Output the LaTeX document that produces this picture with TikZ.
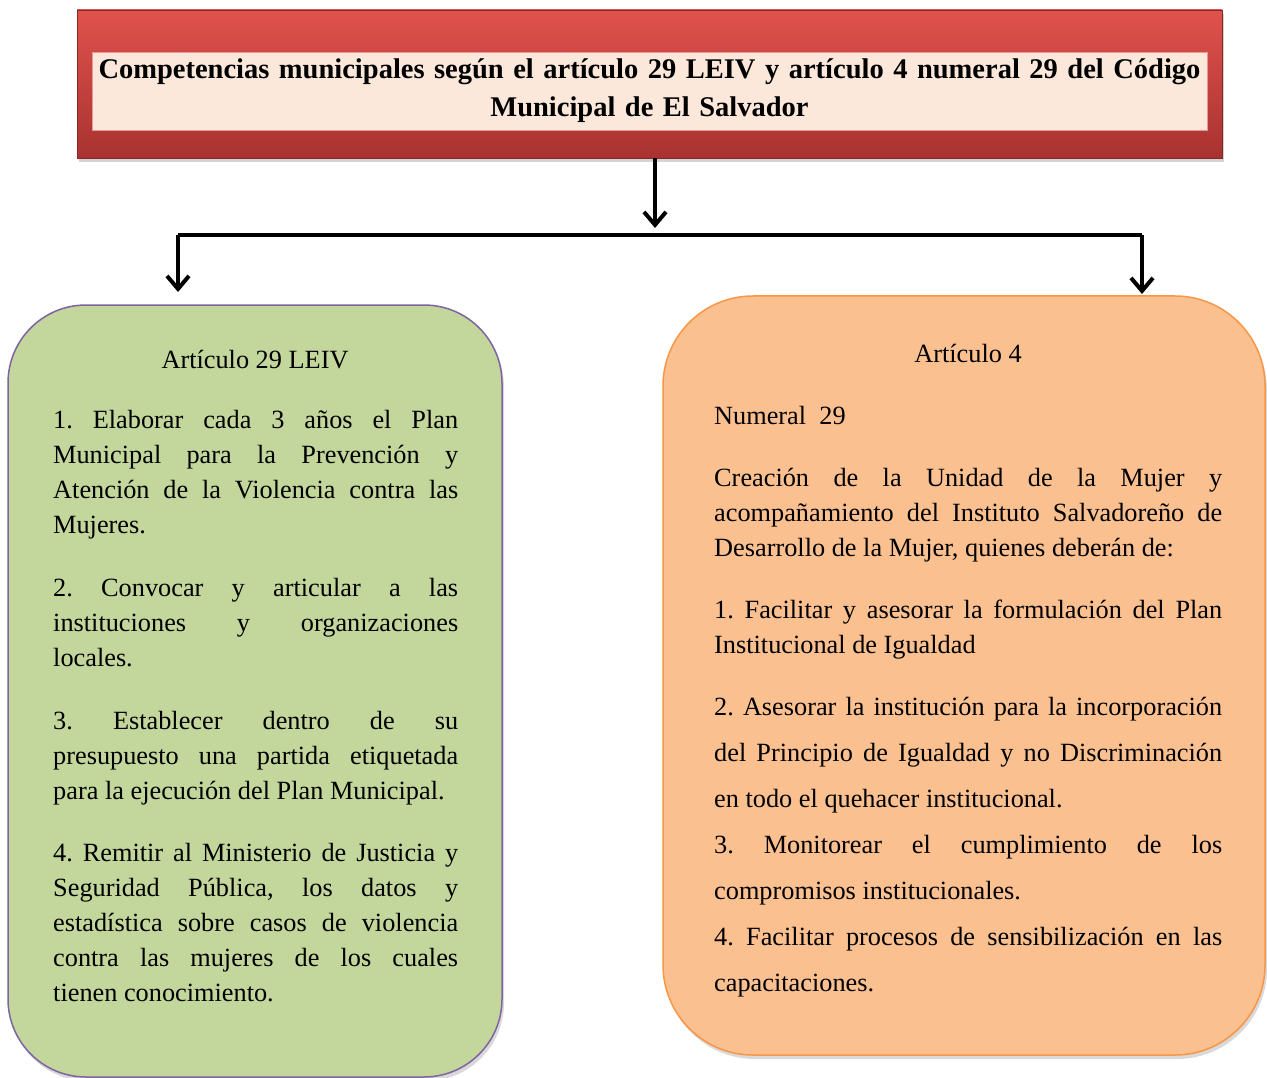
\documentclass[tikz,border=0pt]{standalone}
\usepackage{fontspec}
\setmainfont{Liberation Serif}
\usetikzlibrary{arrows.meta,shadows,calc}
\definecolor{redtop}{RGB}{224,82,77}
\definecolor{redbot}{RGB}{168,50,48}
\definecolor{cream}{RGB}{251,232,218}
\definecolor{greenfill}{RGB}{195,214,155}
\definecolor{greenline}{RGB}{128,100,162}
\definecolor{orangefill}{RGB}{250,192,144}
\definecolor{orangeline}{RGB}{247,150,70}
\frenchspacing
\begin{document}
\frenchspacing
\begin{tikzpicture}[x=1pt,y=-1pt,
  titleouter/.style={rectangle, minimum width=1145pt, minimum height=148pt, inner sep=0pt,
    top color=redtop, bottom color=redbot, draw=redbot!80!black, line width=0.6pt,
    drop shadow={shadow xshift=2pt, shadow yshift=-4pt, opacity=0.35}},
  titleinner/.style={rectangle, minimum width=1115pt, minimum height=78pt, inner sep=0pt,
    fill=cream, draw=redtop!60!white, line width=0.8pt, text width=1115pt, align=center,
    font=\bfseries\fontsize{28.5}{38}\selectfont\frenchspacing},
  greenbox/.style={rectangle, rounded corners=78pt, fill=greenfill, draw=greenline, line width=1.5pt,
    minimum width=494pt, minimum height=772pt, inner sep=0pt,
    drop shadow={shadow xshift=2pt, shadow yshift=-4pt, opacity=0.3}},
  orangebox/.style={rectangle, rounded corners=90pt, fill=orangefill, draw=orangeline, line width=1.5pt,
    minimum width=602pt, minimum height=759pt, inner sep=0pt,
    drop shadow={shadow xshift=2pt, shadow yshift=-4pt, opacity=0.3}},
  para/.style={anchor=base west, inner sep=0pt, align=justify,
    font=\fontsize{26.3}{35}\selectfont\frenchspacing},
  lpara/.style={para, text width=405pt},
  rpara/.style={para, text width=508pt},
  rparab/.style={rpara, font=\fontsize{26.3}{46}\selectfont\frenchspacing},
  head/.style={anchor=base, inner sep=0pt, font=\fontsize{26.3}{35}\selectfont},
  conn/.style={line width=4.5pt, black},
  arr/.style={line width=4.2pt, black, -{Straight Barb[length=13pt,width=22pt,line width=4pt]}}
]
\useasboundingbox (0,0) rectangle (1267,1078);

% title
\node[titleouter] (t) at (649.5,84) {};
\node[titleinner] (ti) at (649.5,91) {Competencias municipales según el artículo 29 LEIV y artículo 4 numeral 29 del Código\\Municipal de El Salvador};

% boxes
\node[greenbox] (L) at (255,691) {};
\node[orangebox] (R) at (964,675.5) {};

% connectors
\coordinate (jc) at (655,228);
\coordinate (jl) at (178,235);
\coordinate (jr) at (1142,235);
\coordinate (al) at (178,292);
\coordinate (ar) at (1142,294);
\draw[arr] (t.south -| jc) -- (jc);
\draw[conn] (jl) -- (jr);
\draw[arr] (jl) -- (al);
\draw[arr] (jr) -- (ar);

% left text
\node[head] (lh) at (255,368) {Artículo 29 LEIV};
\node[lpara] (l1) at (53,428) {1. Elaborar cada 3 años el Plan\linebreak Municipal para la Prevención y\linebreak Atención de la Violencia contra las\linebreak Mujeres.};
\node[lpara] (l2) at (53,596) {2. Convocar y articular a las\linebreak instituciones y organizaciones\linebreak locales.};
\node[lpara] (l3) at (53,729) {3. Establecer dentro de su\linebreak presupuesto una partida etiquetada\linebreak para la ejecución del Plan Municipal.};
\node[lpara] (l4) at (53,861) {4. Remitir al Ministerio de Justicia y\linebreak Seguridad Pública, los datos y\linebreak estadística sobre casos de violencia\linebreak contra las mujeres de los cuales\linebreak tienen conocimiento.};

% right text
\node[head] (rh) at (968,362) {Artículo 4};
\node[rpara] (r0) at (714,424) {Numeral\ \ 29};
\node[rpara] (r1) at (714,486) {Creación de la Unidad de la Mujer y\linebreak acompañamiento del Instituto Salvadoreño de\linebreak Desarrollo de la Mujer, quienes deberán de:};
\node[rpara] (r2) at (714,618) {1. Facilitar y asesorar la formulación del Plan\linebreak Institucional de Igualdad};
\node[rparab] (r3) at (714,715) {2. Asesorar la institución para la incorporación\linebreak del Principio de Igualdad y no Discriminación\linebreak en todo el quehacer institucional.\par
3. Monitorear el cumplimiento de los\linebreak compromisos institucionales.\par
4. Facilitar procesos de sensibilización en las\linebreak capacitaciones.};
\end{tikzpicture}
\end{document}
